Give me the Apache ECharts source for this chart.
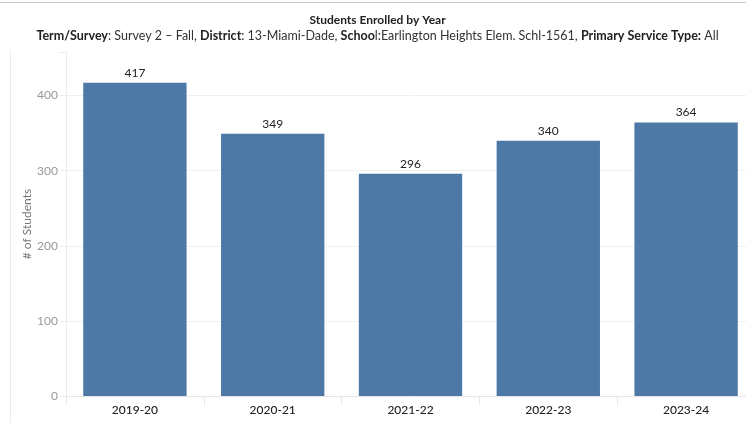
<!DOCTYPE html>
<html>
<head>
<meta charset="utf-8">
<script src="https://cdn.jsdelivr.net/npm/echarts@6/dist/echarts.min.js"></script>
<style>
html,body{margin:0;padding:0;background:#fff;overflow:hidden;width:746px;height:423px;}
#c{width:755px;height:423px;}
</style>
</head>
<body>
<div id="c"></div>
<script>
const categories = ['2019-20','2020-21','2021-22','2022-23','2023-24'];
const students = [417, 349, 296, 340, 364];
const yTicks = [0, 100, 200, 300, 400];

const chart = echarts.init(document.getElementById('c'), null, {renderer:'canvas'});
const FONT = 'Lato, "Open Sans", sans-serif';
chart.setOption({
  animation:false,
  backgroundColor:'#fff',
  title:{
    left:'center', top:9,
    text:'Students Enrolled by Year',
    textStyle:{fontFamily:FONT, fontSize:12, fontWeight:'bold', color:'#222'},
    subtext:'{b|Term/Survey}{n|: Survey 2 – Fall, }{b|District}{n|: 13-Miami-Dade, }{b|Schoo}{n|l:Earlington Heights Elem. Schl-1561, }{b|Primary Service Type:}{n| All}',
    itemGap:3,
    subtextStyle:{
      rich:{
        b:{fontFamily:FONT, fontSize:12.5, fontWeight:'bold', color:'#222'},
        n:{fontFamily:FONT, fontSize:12.5, color:'#333'}
      }
    }
  },
  graphic:[
    {type:'line', shape:{x1:0,y1:2.5,x2:755,y2:2.5}, style:{stroke:'#c8c8c8', lineWidth:1}},
    {type:'line', shape:{x1:10.5,y1:50,x2:10.5,y2:423}, style:{stroke:'#ececec', lineWidth:1}}
  ],
  grid:{left:66, right:0, top:52, bottom:27, containLabel:false},
  xAxis:{
    type:'category', data:categories,
    axisLine:{show:true, lineStyle:{color:'#e6e6e6'}},
    axisTick:{show:true, alignWithLabel:false, length:9, lineStyle:{color:'#e6e6e6'}},
    axisLabel:{fontFamily:FONT, fontSize:12, color:'#222', margin:8, fontWeight:500}
  },
  yAxis:{
    type:'value', min:0, max:458, interval:100,
    name:'# of Students', nameLocation:'middle', nameGap:33, nameRotate:90, nameMoveOverlap:false,
    nameTextStyle:{fontFamily:FONT, fontSize:12, color:'#777'},
    axisLine:{show:true, lineStyle:{color:'#ececec'}},
    axisTick:{show:true, length:6, lineStyle:{color:'#ececec'}},
    axisLabel:{fontFamily:FONT, fontSize:12, color:'#999', margin:8,
      formatter:function(v){ return yTicks.indexOf(v)>=0 ? String(v) : ''; }},
    splitLine:{show:true, lineStyle:{color:['#f0f0f0','#f0f0f0','#f0f0f0','#f0f0f0','#f0f0f0','rgba(0,0,0,0)']}}
  },
  series:[{
    type:'bar', data:students, barCategoryGap:'25%',
    itemStyle:{color:'#4e79a7'},
    label:{show:true, position:'top', distance:4, fontFamily:FONT, fontSize:12, color:'#222'}
  }]
});
</script>
</body>
</html>
